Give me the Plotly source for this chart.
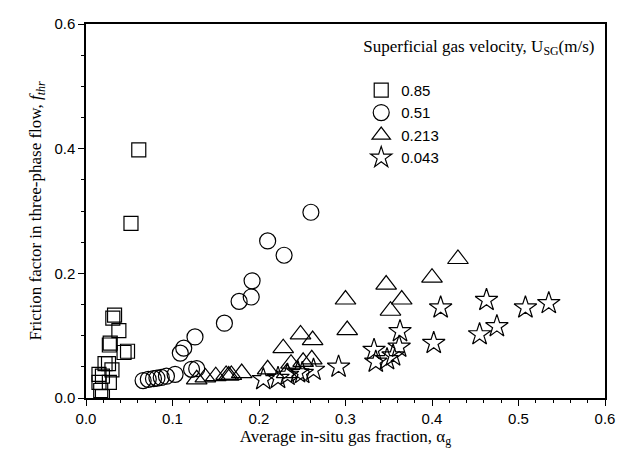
import plotly.graph_objects as go

sq_x=[0.061,0.052,0.033,0.031,0.038,0.028,0.027,0.048,0.044,0.022,0.026,0.030,0.015,0.019,0.027,0.017,0.019,0.015]
sq_y=[0.398,0.280,0.133,0.128,0.108,0.088,0.085,0.075,0.073,0.055,0.055,0.045,0.038,0.035,0.025,0.012,0.002,0.025]
ci_x=[0.26,0.21,0.229,0.192,0.177,0.191,0.16,0.126,0.113,0.109,0.128,0.122,0.103,0.093,0.087,0.082,0.078,0.072,0.066]
ci_y=[0.298,0.252,0.229,0.188,0.155,0.162,0.12,0.098,0.080,0.072,0.047,0.046,0.038,0.035,0.033,0.032,0.031,0.030,0.028]
tr_x=[0.43,0.40,0.347,0.365,0.30,0.352,0.248,0.262,0.302,0.228,0.251,0.237,0.261,0.21,0.18,0.168,0.165,0.162,0.15,0.138,0.128,0.232]
tr_y=[0.223,0.193,0.182,0.158,0.158,0.140,0.102,0.093,0.109,0.080,0.058,0.055,0.062,0.046,0.040,0.037,0.036,0.037,0.035,0.033,0.030,0.040]
st_x=[0.535,0.508,0.463,0.41,0.363,0.455,0.475,0.402,0.362,0.355,0.333,0.335,0.348,0.292,0.263,0.245,0.233,0.222,0.205,0.25]
st_y=[0.152,0.145,0.157,0.145,0.107,0.102,0.115,0.088,0.082,0.068,0.077,0.058,0.062,0.050,0.045,0.041,0.037,0.032,0.030,0.040]
names=["0.85","0.51","0.213","0.043"]

fig=go.Figure()
for x,y,n,s,sz in [(sq_x,sq_y,names[0],"square-open",14),(ci_x,ci_y,names[1],"circle-open",16),
                   (tr_x,tr_y,names[2],"triangle-up-open",18),(st_x,st_y,names[3],"star-open",17)]:
    fig.add_trace(go.Scatter(x=x,y=y,name=n,mode="markers",
        marker=dict(symbol=s,size=sz,color="black",line=dict(width=1.2,color="black"))))

serif="Liberation Serif"
fig.update_layout(width=631,height=462,margin=dict(l=78,r=34,t=7,b=72),
    plot_bgcolor="white",paper_bgcolor="white",
    font=dict(family="Liberation Sans",size=15,color="black"),
    legend=dict(x=0.985,y=0.985,xanchor="right",yanchor="top",bgcolor="rgba(0,0,0,0)",
        title=dict(text="Superficial gas velocity, U<sub>SG</sub>(m/s)<br>",font=dict(family=serif,size=17)),
        font=dict(size=15)),
    showlegend=True)
ax=dict(showline=True,mirror=True,linecolor="black",linewidth=1.5,ticks="outside",
        ticklen=6,tickcolor="black",showgrid=False,zeroline=False,
        minor=dict(ticks="outside",ticklen=3,tickcolor="black"))
fig.update_xaxes(range=[0,0.6],dtick=0.1,tickformat=".1f",
    title=dict(text="Average in-situ gas fraction, α<sub>g</sub>",font=dict(family=serif,size=17),standoff=4),**ax)
fig.update_yaxes(range=[0,0.6],dtick=0.2,tickformat=".1f",
    title=dict(text="Friction factor in three-phase flow, <i>f<sub>thr</sub></i>",font=dict(family=serif,size=17),standoff=8),**ax)
fig.write_html("out.html")
